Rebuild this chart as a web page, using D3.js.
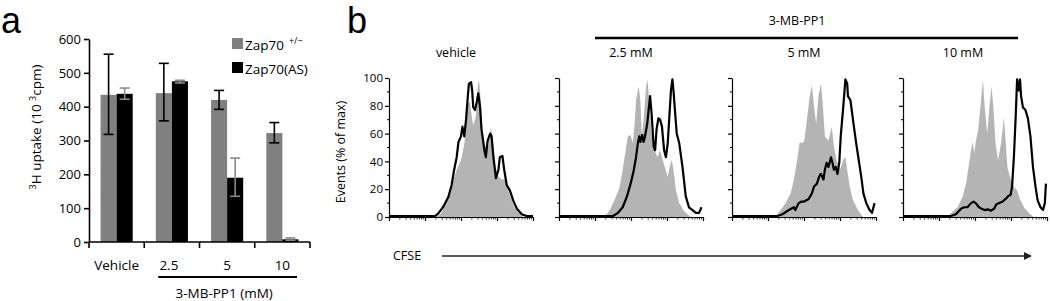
<!DOCTYPE html>
<html>
<head>
<meta charset="utf-8">
<script src="https://cdn.jsdelivr.net/npm/d3@7/dist/d3.min.js"></script>
<style>
  body { margin: 0; background: #fff; }
  svg { font-family: "Open Sans", sans-serif; }
  .axis path, .axis line { stroke: #000; }
</style>
</head>
<body>
<svg id="fig" width="1050" height="301"></svg>
<script>
// ---------- data, panel a
const groups = ['Vehicle', '2.5', '5', '10'];
const hetMean = [435, 440, 420, 322];
const hetLo = [318, 358, 392, 293];
const hetHi = [555, 528, 448, 353];
const asMean = [438, 475, 190, 8];
const asLo = [422, 470, 135, 5];
const asHi = [455, 478, 248, 12];
const yTicksA = [0, 100, 200, 300, 400, 500, 600];

// ---------- data, panel b: [log10 CFSE, % of max]
const panelTitles = ['vehicle', '2.5 mM', '5 mM', '10 mM'];
const vehGray = [[1.32,0],[1.46,3],[1.6,10],[1.74,22],[1.88,34],[2.0,41],[2.06,48],[2.1,54],[2.15,72],[2.2,82],[2.25,83],[2.3,72],[2.34,66],[2.41,72],[2.46,93],[2.5,99],[2.55,84],[2.59,63],[2.67,51],[2.76,51],[2.83,65],[2.9,51],[2.96,36],[3.04,29],[3.13,27],[3.22,27],[3.31,19],[3.41,12],[3.5,6],[3.6,3],[3.73,0]];
const vehBlack = [[0,0.7],[1.28,0.7],[1.37,2.6],[1.51,7.4],[1.65,14.6],[1.74,23],[1.81,34],[1.88,43],[1.93,54],[2.0,58],[2.04,65],[2.09,58],[2.14,70],[2.19,87],[2.22,96],[2.28,97],[2.31,91],[2.34,79],[2.39,77],[2.44,83],[2.48,89],[2.53,79],[2.57,63],[2.65,48],[2.69,43],[2.74,55],[2.81,60],[2.85,58],[2.9,43],[2.97,28],[3.04,34],[3.08,43],[3.15,44],[3.2,34],[3.27,23],[3.36,19],[3.45,12],[3.55,6],[3.69,2],[3.82,0.7],[4,0.7]];
const lowGray = [[1.27,0],[1.41,5],[1.54,12],[1.68,21],[1.77,34],[1.84,46],[1.91,58],[1.99,59],[2.05,53],[2.1,67],[2.14,84],[2.21,94],[2.26,84],[2.3,58],[2.35,70],[2.42,94],[2.46,99],[2.51,82],[2.56,63],[2.65,48],[2.74,43],[2.81,48],[2.88,41],[2.94,36],[3.02,29],[3.06,34],[3.13,41],[3.18,34],[3.25,19],[3.34,10],[3.48,4],[3.66,0]];
const lowBlack = [[0,0.7],[1.5,0.7],[1.64,3],[1.77,7],[1.89,15],[1.99,24],[2.08,34],[2.14,43],[2.19,53],[2.23,58],[2.26,54],[2.31,59],[2.35,54],[2.39,58],[2.45,67],[2.49,77],[2.53,87],[2.57,75],[2.63,51],[2.67,48],[2.71,63],[2.76,71],[2.81,70],[2.86,65],[2.92,48],[2.97,43],[3.02,53],[3.06,70],[3.11,91],[3.15,99],[3.18,91],[3.22,77],[3.27,60],[3.34,53],[3.43,36],[3.52,15],[3.61,7],[3.71,5],[3.8,3],[3.89,3],[3.96,7]];
const midGray = [[1.21,0],[1.35,5],[1.49,10],[1.63,17],[1.72,27],[1.81,41],[1.88,54],[1.95,53],[2.01,55],[2.08,70],[2.16,87],[2.22,95],[2.28,79],[2.34,67],[2.4,87],[2.47,96],[2.52,82],[2.58,58],[2.68,55],[2.77,65],[2.83,51],[2.9,41],[3.0,34],[3.09,41],[3.15,43],[3.2,34],[3.27,22],[3.36,12],[3.5,5],[3.63,0]];
const midBlack = [[0,0.7],[1.26,0.7],[1.4,2],[1.58,5],[1.72,7],[1.76,5],[1.85,10],[1.92,11],[1.99,11],[2.13,13],[2.22,17],[2.28,22],[2.36,24],[2.42,29],[2.47,31],[2.54,27],[2.58,34],[2.63,39],[2.68,36],[2.75,43],[2.79,39],[2.83,34],[2.88,36],[2.93,31],[2.98,39],[3.02,58],[3.09,79],[3.15,99],[3.2,96],[3.22,87],[3.29,84],[3.36,70],[3.45,53],[3.52,41],[3.59,29],[3.65,17],[3.73,10],[3.82,5],[3.89,3],[3.96,10]];
const highGray = [[1.24,0],[1.38,4],[1.52,7],[1.66,15],[1.75,24],[1.81,34],[1.89,48],[1.93,54],[1.98,46],[2.02,54],[2.09,63],[2.16,82],[2.22,99],[2.27,79],[2.34,60],[2.4,79],[2.46,94],[2.51,79],[2.57,53],[2.64,41],[2.71,51],[2.77,63],[2.8,72],[2.85,55],[2.9,36],[2.99,27],[3.08,22],[3.17,19],[3.26,12],[3.36,7],[3.49,3],[3.63,0]];
const highBlack = [[0,0.7],[1.33,0.7],[1.47,2],[1.61,6],[1.7,7],[1.79,7],[1.89,10],[1.96,11],[2.02,10],[2.11,7],[2.18,6],[2.27,5],[2.36,5.5],[2.44,4.5],[2.53,6],[2.59,9],[2.67,10],[2.76,11],[2.85,13],[2.92,15],[2.99,16],[3.03,22],[3.08,43],[3.13,72],[3.17,99],[3.22,91],[3.25,99],[3.28,87],[3.33,79],[3.4,77],[3.47,71],[3.54,58],[3.61,36],[3.68,22],[3.74,12],[3.82,7],[3.89,5],[3.94,10],[3.97,24]];
const grayHists = [vehGray, lowGray, midGray, highGray];
const blackHists = [vehBlack, lowBlack, midBlack, highBlack];
const yTicksB = [0, 20, 40, 60, 80, 100];
const decades = [0, 1, 2, 3, 4];

const svg = d3.select('#fig');

// ---------- panel letters
svg.append('text').attr('x', 1).attr('y', 33).attr('font-size', 36)
  .attr('font-family', 'Liberation Sans').text('a');
svg.append('text').attr('x', 347).attr('y', 33).attr('font-size', 36)
  .attr('font-family', 'Liberation Sans').text('b');

// ================= panel a
const marginA = {left: 89, top: 39};
const wA = 221, hA = 203;
const gA = svg.append('g').attr('transform', `translate(${marginA.left},${marginA.top})`);

const xA = d3.scaleBand().domain(groups).range([0, wA]);
const xInner = d3.scaleBand().domain(['het', 'as']).range([0, xA.bandwidth()]).paddingOuter(0.72);
const yA = d3.scaleLinear().domain([0, 600]).range([hA, 0]);

const rows = groups.map((g, i) => ({g, i}));

gA.selectAll('.barHet').data(rows).join('rect')
  .attr('x', d => xA(d.g) + xInner('het'))
  .attr('width', xInner.bandwidth())
  .attr('y', d => yA(hetMean[d.i]))
  .attr('height', d => hA - yA(hetMean[d.i]))
  .attr('fill', '#808080');

gA.selectAll('.barAs').data(rows).join('rect')
  .attr('x', d => xA(d.g) + xInner('as'))
  .attr('width', xInner.bandwidth())
  .attr('y', d => yA(asMean[d.i]))
  .attr('height', d => hA - yA(asMean[d.i]))
  .attr('fill', '#000');

// error bars
function errBars(key, lo, hi, color) {
  const cx = d => xA(d.g) + xInner(key) + xInner.bandwidth() / 2;
  const cap = 5;
  const eg = gA.append('g').attr('stroke', color).attr('stroke-width', 1.6);
  eg.selectAll('line.v').data(rows).join('line')
    .attr('x1', cx).attr('x2', cx)
    .attr('y1', d => yA(lo[d.i])).attr('y2', d => yA(hi[d.i]));
  eg.selectAll('line.t').data(rows).join('line').attr('class', 't')
    .attr('x1', d => cx(d) - cap).attr('x2', d => cx(d) + cap)
    .attr('y1', d => yA(hi[d.i])).attr('y2', d => yA(hi[d.i]));
  eg.selectAll('line.b').data(rows).join('line').attr('class', 'b')
    .attr('x1', d => cx(d) - cap).attr('x2', d => cx(d) + cap)
    .attr('y1', d => yA(lo[d.i])).attr('y2', d => yA(lo[d.i]));
}
errBars('het', hetLo, hetHi, '#000');
errBars('as', asLo, asHi, '#8a8a8a');

// y axis
const yAxA = gA.append('g').attr('class', 'axis')
  .call(d3.axisLeft(yA).tickValues(yTicksA).tickSize(5).tickSizeOuter(0).tickPadding(3));
yAxA.selectAll('path, line').attr('stroke-width', 1.6);
yAxA.selectAll('text').attr('font-size', 13).attr('font-family', 'Open Sans');

// x axis: ticks at group boundaries
const xAxG = gA.append('g').attr('transform', `translate(0,${hA})`);
xAxG.append('line').attr('x1', 0).attr('x2', wA).attr('stroke', '#000').attr('stroke-width', 1.6);
xAxG.selectAll('line.tk').data([...groups.map(g => xA(g)), wA]).join('line').attr('class', 'tk')
  .attr('x1', d => d).attr('x2', d => d).attr('y1', 0).attr('y2', 6)
  .attr('stroke', '#000').attr('stroke-width', 1.6);
xAxG.selectAll('text').data(groups).join('text')
  .attr('x', d => xA(d) + xA.bandwidth() / 2 - (d === '2.5' ? 3 : 0)).attr('y', 28)
  .attr('text-anchor', 'middle').attr('font-size', 13.5).text(d => d);

// drug bracket
xAxG.append('line')
  .attr('x1', xA('2.5') + 14).attr('x2', wA - 13)
  .attr('y1', 35).attr('y2', 35).attr('stroke', '#000').attr('stroke-width', 2.2);
xAxG.append('text').attr('x', (xA('5') + xA.bandwidth() / 2) - 3).attr('y', 56)
  .attr('text-anchor', 'middle').attr('font-size', 13.5).text('3-MB-PP1 (mM)');

// y title
const yt = svg.append('text').attr('transform', 'translate(41,127) rotate(-90)')
  .attr('text-anchor', 'middle').attr('font-size', 13.5);
yt.append('tspan').attr('font-size', 9).attr('dy', -5).text('3');
yt.append('tspan').attr('dy', 5).text('H uptake (10 ');
yt.append('tspan').attr('font-size', 9).attr('dy', -5).text('3');
yt.append('tspan').attr('dy', 5).text('cpm)');

// legend
const legend = [{label: 'Zap70', sup: '+/\u2212', color: '#808080'}, {label: 'Zap70(AS)', sup: '', color: '#000'}];
const lg = svg.append('g').attr('transform', 'translate(232,38)');
legend.forEach((d, i) => {
  const row = lg.append('g').attr('transform', `translate(0,${i * 24})`);
  row.append('rect').attr('width', 11).attr('height', 11).attr('fill', d.color);
  const t = row.append('text').attr('x', 13).attr('y', 12).attr('font-size', 13.5);
  t.append('tspan').text(d.label);
  if (d.sup) t.append('tspan').attr('dx', 5).attr('dy', -6).attr('font-size', 9).text(d.sup);
});

// ================= panel b
const panelLeft = [389, 559, 732, 903];
const wB = 144, hB = 139, topB = 78;
const xB = d3.scaleLinear().domain([0, 4]).range([0, wB]);
const yB = d3.scaleLinear().domain([0, 100]).range([hB, 0]);
const area = d3.area().x(d => xB(d[0])).y0(hB).y1(d => yB(d[1]));
const line = d3.line().x(d => xB(d[0])).y(d => yB(d[1]));

const minorX = [];
decades.slice(0, 4).forEach(k => { for (let m = 2; m <= 9; m++) minorX.push(k + Math.log10(m)); });
const minorY = d3.range(10, 100, 20);

panelLeft.forEach((left, p) => {
  const g = svg.append('g').attr('transform', `translate(${left},${topB})`);
  g.append('path').datum(grayHists[p]).attr('d', area).attr('fill', '#b4b4b4');
  g.append('path').datum(blackHists[p]).attr('d', line)
    .attr('fill', 'none').attr('stroke', '#000').attr('stroke-width', 2.2).attr('stroke-linejoin', 'round');

  // y axis
  const ya = g.append('g').attr('class', 'axis')
    .call(d3.axisLeft(yB).tickValues(yTicksB).tickSize(4).tickSizeOuter(0).tickPadding(2)
      .tickFormat(p === 0 ? d3.format('d') : () => ''));
  ya.selectAll('path, line').attr('stroke-width', 1.2);
  ya.selectAll('text').attr('font-size', 11.5).attr('font-family', 'Open Sans');
  g.selectAll('line.my').data(minorY).join('line').attr('class', 'my')
    .attr('x1', -2).attr('x2', 0).attr('y1', d => yB(d)).attr('y2', d => yB(d))
    .attr('stroke', '#000').attr('stroke-width', 1);

  // x axis (log decades)
  const xa = g.append('g').attr('class', 'axis').attr('transform', `translate(0,${hB})`)
    .call(d3.axisBottom(xB).tickValues(decades).tickSize(4).tickSizeOuter(0).tickFormat(() => ''));
  xa.selectAll('path, line').attr('stroke-width', 1.2);
  xa.selectAll('line.mx').data(minorX).join('line').attr('class', 'mx')
    .attr('x1', d => xB(d)).attr('x2', d => xB(d)).attr('y1', 0).attr('y2', 2.5)
    .attr('stroke', '#000').attr('stroke-width', 0.8);
  if (p === 0) {
    const lbl = xa.selectAll('text.dl').data(decades).join('text').attr('class', 'dl')
      .attr('x', d => xB(d) + 2).attr('y', 17).attr('text-anchor', 'middle').attr('font-size', 10.5);
    lbl.append('tspan').text('10');
    lbl.append('tspan').attr('dy', -5).attr('font-size', 7.5).text(d => d);
  }

  svg.append('text').attr('x', left + wB / 2 - [5, 0, 0, 12][p]).attr('y', 57)
    .attr('text-anchor', 'middle').attr('font-size', 12.5).text(panelTitles[p]);
});

svg.append('text').attr('transform', 'translate(345,152) rotate(-90)')
  .attr('text-anchor', 'middle').attr('font-size', 12.5).text('Events (% of max)');

// drug bar over panels
svg.append('line').attr('x1', 595).attr('x2', 1018).attr('y1', 38).attr('y2', 38)
  .attr('stroke', '#000').attr('stroke-width', 2.5);
svg.append('text').attr('x', 797).attr('y', 25).attr('text-anchor', 'middle')
  .attr('font-size', 12.5).text('3-MB-PP1');

// CFSE arrow
svg.append('defs').append('marker').attr('id', 'arr').attr('viewBox', '0 0 10 10')
  .attr('refX', 9).attr('refY', 5).attr('markerWidth', 8).attr('markerHeight', 8)
  .attr('markerUnits', 'userSpaceOnUse').attr('orient', 'auto')
  .append('path').attr('d', 'M0,0L10,5L0,10z').attr('fill', '#222');
svg.append('line').attr('x1', 442).attr('x2', 1031).attr('y1', 256).attr('y2', 256)
  .attr('stroke', '#222').attr('stroke-width', 1.5).attr('marker-end', 'url(#arr)');
svg.append('text').attr('x', 393).attr('y', 260).attr('font-size', 12.5).text('CFSE');
</script>
</body>
</html>
